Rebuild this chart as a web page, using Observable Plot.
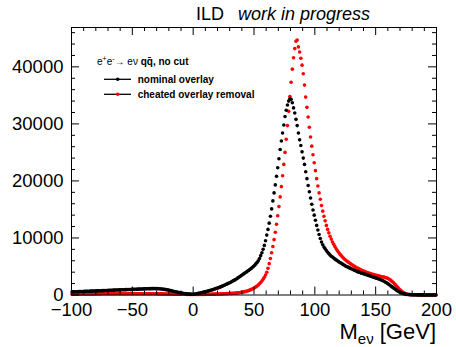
<!DOCTYPE html>
<html><head><meta charset="utf-8">
<script src="https://cdn.jsdelivr.net/npm/d3@7"></script>
<script src="https://cdn.jsdelivr.net/npm/@observablehq/plot@0.6"></script>
<style>body{margin:0;background:#fff} svg{display:block}</style>
</head><body><div id="chart"></div>
<script>
// Histogram M_eν, 1 GeV bins from -100 to 200 GeV (value per bin)
const binStart = -100;
const binWidth = 1;

// nominal overlay (black), bins -100 .. 199
const nominal = [
 540,550,559,568,577,586,595,604,613,622,
 631,640,649,658,667,676,685,694,703,712,
 721,730,739,748,757,766,775,784,793,802,
 811,820,829,838,847,856,865,874,883,892,
 901,910,919,928,937,946,955,964,973,982,
 991,1000,1009,1018,1027,1036,1045,1054,1063,1072,
 1080,1090,1100,1105,1110,1115,1120,1120,1120,1115,
 1110,1100,1085,1065,1040,1010,980,945,905,860,
 815,770,720,670,620,570,520,470,425,380,
 340,300,265,235,205,180,160,145,135,130,
 120,160,210,260,300,350,400,450,500,550,
 600,660,720,780,840,900,970,1040,1110,1180,
 1250,1330,1420,1510,1600,1700,1800,1900,2000,2100,
 2200,2320,2440,2560,2680,2800,2950,3100,3250,3400,
 3550,3700,3850,4000,4150,4300,4450,4600,4800,5000,
 5200,5450,5700,6000,6400,6900,7400,8000,8700,9500,
 10500,11500,12600,13800,15100,16500,17900,19300,20800,22300,
 23900,25500,27000,28400,29800,31300,32400,33300,34000,34400,
 34300,33700,32800,31900,30800,29700,28400,27200,26200,25100,
 24000,22900,21600,20400,19200,18100,17000,15900,14900,14000,
 13100,12200,11400,10600,9900,9300,8800,8400,8100,7800,
 7500,7250,7000,6800,6650,6500,6300,6150,6000,5850,
 5700,5600,5450,5300,5200,5050,4950,4850,4750,4650,
 4550,4450,4350,4250,4150,4050,3980,3900,3830,3770,
 3700,3620,3550,3480,3400,3330,3250,3180,3100,3020,
 2950,2880,2800,2720,2640,2550,2450,2330,2200,2050,
 1900,1750,1580,1420,1250,1100,950,800,650,520,
 420,330,250,190,140,100,80,60,45,35,
 30,28,25,22,20,18,16,15,14,13,
 12,11,10,10,9,9,8,8,7,7
];

// cheated overlay removal (red), bins -100 .. 199
const cheated = [
 150,152,155,157,160,162,165,167,170,172,
 175,177,180,182,185,187,190,192,195,197,
 200,202,204,206,208,210,212,214,216,218,
 220,221,222,223,224,225,226,227,228,229,
 230,230,231,231,232,232,233,233,233,233,
 233,233,232,232,231,231,230,229,228,227,
 226,224,222,220,218,216,214,212,210,207,
 204,201,198,195,192,189,186,183,180,176,
 172,168,164,160,156,152,148,144,140,136,
 132,128,124,120,116,112,108,104,100,96,
 92,94,96,98,100,103,106,110,114,118,
 122,126,130,135,140,145,150,156,162,168,
 175,182,190,198,206,215,225,235,245,256,
 268,280,295,310,328,348,370,395,425,460,
 500,540,590,640,700,770,850,940,1040,1150,
 1280,1420,1580,1760,1960,2200,2450,2750,3100,3500,
 4000,4700,5500,6400,7400,8500,9700,11000,12400,13900,
 15500,17200,19000,20900,22900,25000,27300,29700,32200,34800,
 37300,39600,41600,43200,44500,44700,43500,42600,41500,40300,
 38800,36800,34700,32900,31200,29400,27700,26100,24600,23200,
 21800,20400,19100,17900,16800,15700,14700,13800,13000,12200,
 11500,10900,10300,9800,9300,8900,8500,8100,7800,7500,
 7200,6950,6700,6480,6280,6100,5920,5760,5600,5450,
 5300,5160,5030,4900,4780,4670,4560,4450,4350,4250,
 4150,4070,3990,3910,3830,3750,3690,3630,3570,3510,
 3450,3400,3350,3300,3250,3200,3150,3100,3030,2950,
 2850,2720,2560,2380,2180,1960,1730,1490,1250,1020,
 820,630,470,340,240,170,120,90,70,55,
 45,40,36,32,29,26,24,22,20,18,
 17,16,15,14,13,12,11,10,10,9
];

const seriesLabels = ["nominal overlay", "cheated overlay removal"];
const xMajor = [-100, -50, 0, 50, 100, 150, 200];
const xMinor = [-90,-80,-70,-60,-40,-30,-20,-10,10,20,30,40,60,70,80,90,110,120,130,140,160,170,180,190];
const yMajor = [0, 10000, 20000, 30000, 40000];
const yMinor = [2000,4000,6000,8000,12000,14000,16000,18000,22000,24000,26000,28000,32000,34000,36000,38000,42000,44000,46000];
const yMax = 46900;

const toRows = arr => arr.map((v, i) => ({x: binStart + (i + 0.5) * binWidth, y: v}));
const nomRows = toRows(nominal);
const cheRows = toRows(cheated);

const W = 456, H = 347, mL = 71, mR = 20, mT = 27, mB = 52.5;
const iw = W - mL - mR, ih = H - mT - mB;
const font = "'Liberation Sans', Arial, Helvetica, sans-serif";

const chart = Plot.plot({
  width: W, height: H,
  marginLeft: mL, marginRight: mR, marginTop: mT, marginBottom: mB,
  x: {domain: [-100, 200], label: null},
  y: {domain: [0, yMax], label: null},
  style: {fontFamily: font, fontSize: "18.5px", background: "white", color: "black"},
  marks: [
    Plot.dot(cheRows, {x: "x", y: "y", r: 1.8, fill: "#ff0000", stroke: null}),
    Plot.dot(nomRows, {x: "x", y: "y", r: 1.8, fill: "#000000", stroke: null}),
    Plot.frame({stroke: "black", strokeWidth: 1}),
    // inward ticks, bottom & top
    Plot.tickX(xMajor, {x: d => d, insetTop: ih - 8, stroke: "black"}),
    Plot.tickX(xMinor, {x: d => d, insetTop: ih - 4, stroke: "black"}),
    Plot.tickX(xMajor, {x: d => d, insetBottom: ih - 8, stroke: "black"}),
    Plot.tickX(xMinor, {x: d => d, insetBottom: ih - 4, stroke: "black"}),
    // inward ticks, left & right
    Plot.tickY(yMajor, {y: d => d, insetRight: iw - 8, stroke: "black"}),
    Plot.tickY(yMinor, {y: d => d, insetRight: iw - 4, stroke: "black"}),
    Plot.tickY(yMajor, {y: d => d, insetLeft: iw - 8, stroke: "black"}),
    Plot.tickY(yMinor, {y: d => d, insetLeft: iw - 4, stroke: "black"}),
    Plot.axisX(xMajor, {tickSize: 0, tickPadding: 8, fontSize: 18.5, label: null, fill: "black"}),
    Plot.axisY(yMajor, {tickSize: 0, tickPadding: 8, fontSize: 18.5, label: null, fill: "black", tickFormat: d => String(d)})
  ]
});
document.getElementById("chart").appendChild(chart);

const svg = d3.select(chart);
const over = svg.append("g").attr("text-anchor", "start").attr("font-family", font).attr("fill", "black");
// title
over.append("text").attr("x", 196).attr("y", 19.5).attr("font-size", 18).text("ILD");
over.append("text").attr("x", 238).attr("y", 19.5).attr("font-size", 18).attr("font-style", "italic").text("work in progress");

// x axis title
const xt = over.append("text").attr("x", 436).attr("y", 339).attr("text-anchor", "end").attr("font-size", 22);
xt.append("tspan").text("M");
xt.append("tspan").attr("font-size", 15).attr("dy", 5).text("eν");
xt.append("tspan").attr("dy", -5).text(" [GeV]");

// legend
const lg = over.append("g").attr("font-size", 10);
const hd = lg.append("text").attr("x", 97).attr("y", 64.5);
hd.append("tspan").text("e");
hd.append("tspan").attr("font-size", 7).attr("dy", -4).text("+");
hd.append("tspan").attr("dy", 4).text("e");
hd.append("tspan").attr("font-size", 7).attr("dy", -4).text("-");
hd.append("tspan").attr("dy", 4).text("\u2192 eν ");
hd.append("tspan").attr("font-weight", "bold").text("qq\u0304, no cut");

const legendRows = [{label: seriesLabels[0], color: "#000000", y: 79.3}, {label: seriesLabels[1], color: "#ff0000", y: 94.3}];
for (const r of legendRows) {
  lg.append("line").attr("x1", 104).attr("x2", 131).attr("y1", r.y).attr("y2", r.y).attr("stroke", "black").attr("stroke-width", 1.3);
  lg.append("circle").attr("cx", 117.7).attr("cy", r.y).attr("r", 1.8).attr("fill", r.color);
  lg.append("text").attr("x", 137.7).attr("y", r.y + 3.6).attr("font-weight", "bold").text(r.label);
}
</script>
</body></html>
